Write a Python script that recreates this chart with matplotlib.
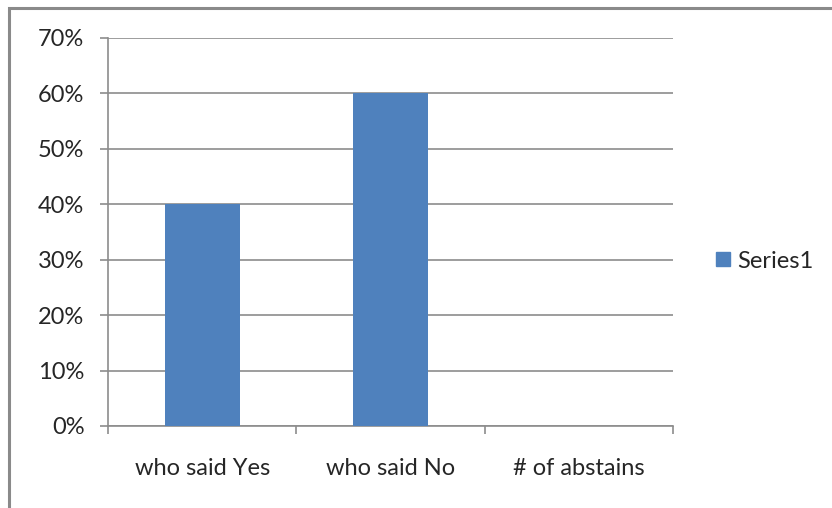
import matplotlib.pyplot as plt
from matplotlib.lines import Line2D
from matplotlib.patches import Rectangle
from matplotlib.ticker import PercentFormatter

categories = ["who said Yes", "who said No", "# of abstains"]
values = [0.40, 0.60, 0.0]
y_ticks = [0.0, 0.1, 0.2, 0.3, 0.4, 0.5, 0.6, 0.7]
series_name = "Series1"

BAR_COLOR = "#4F81BD"
GRID_COLOR = "#8C8C8C"
TEXT_COLOR = "#262626"
FONT_SIZE = 17

plt.rcParams["font.family"] = ["Lato", "DejaVu Sans"]

fig = plt.figure(figsize=(8.32, 5.08), dpi=100)
ax = fig.add_axes((108 / 832, 1 - 426 / 508, (673 - 108) / 832, (426 - 38) / 508))

x = list(range(len(categories)))
ax.bar(x, values, width=0.4, color=BAR_COLOR, zorder=3)

ax.set_xlim(-0.5, len(categories) - 0.5)
ax.set_ylim(0, 0.7)
ax.set_yticks(y_ticks)
ax.yaxis.set_major_formatter(PercentFormatter(1.0, decimals=0))
ax.yaxis.grid(True, color=GRID_COLOR, linewidth=1.2, zorder=0)

# category boundaries get the ticks, labels sit in the middle
ax.set_xticks([i - 0.5 for i in range(len(categories) + 1)])
ax.set_xticklabels([])
ax.set_xticks(x, minor=True)
ax.set_xticklabels(categories, minor=True)
ax.tick_params(axis="x", which="minor", length=0, pad=23, labelsize=FONT_SIZE, labelcolor=TEXT_COLOR)
ax.tick_params(axis="x", which="major", length=6, width=1.2, color=GRID_COLOR)
ax.tick_params(axis="y", length=6, width=1.2, color=GRID_COLOR, pad=11, labelsize=FONT_SIZE, labelcolor=TEXT_COLOR)

for side in ("top", "right"):
    ax.spines[side].set_visible(False)
for side in ("left", "bottom"):
    ax.spines[side].set_color(GRID_COLOR)
    ax.spines[side].set_linewidth(1.2)

handle = Line2D([0], [0], marker="s", linestyle="", markersize=10,
                markerfacecolor=BAR_COLOR, markeredgecolor=BAR_COLOR, label=series_name)
fig.legend(handles=[handle], loc="center left", bbox_to_anchor=(716 / 832, 1 - 261 / 508),
           frameon=False, fontsize=FONT_SIZE, handlelength=0.6, handletextpad=0.3,
           borderpad=0, borderaxespad=0, labelcolor=TEXT_COLOR)

# chart area border, cut off at the right and bottom
fig.patches.append(Rectangle((8.5 / 832, -0.05), 1.0, 1 - 8 / 508 + 0.05,
                             transform=fig.transFigure, fill=False,
                             edgecolor="#8A8A8A", linewidth=2.2))

fig.savefig("out.png", dpi=100)
